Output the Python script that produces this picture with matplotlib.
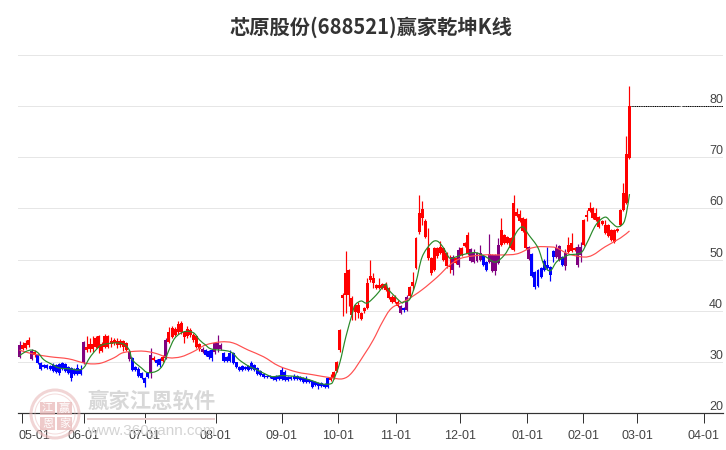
#!/usr/bin/env python3
"""Winner Qiankun K-line chart for 688521, candles plus two moving averages."""

import matplotlib
matplotlib.use('Agg')
import matplotlib.pyplot as plt
from matplotlib.patches import Circle, PathPatch, Rectangle
from matplotlib.path import Path

plt.rcParams['font.family'] = ['Liberation Sans', 'Noto Sans CJK SC', 'DejaVu Sans']

# ── Candles: r = rising, b = falling, p = turning ──
kinds = ('p' + 'r' * 3 + 'p' + 'r' + 'b' * 15 + 'p' + 'r' * 14 + 'p' + 'b' * 6 + 'p' + 'r'
         + 'b' * 2 + 'r' + 'p' + 'r' * 11 + 'p' + 'b' * 3 + 'p' * 3 + 'b' * 35 + 'r' * 23
         + 'pbp' + 'r' * 14 + 'p' + 'r' + 'p' + 'r' * 3 + 'p' * 4 + 'b' * 2 + 'p' * 4
         + 'r' * 9 + 'p' + 'b' * 8 + 'p' * 2 + 'b' + 'p' + 'r' * 3 + 'p' * 2 + 'r' * 16)

body_low = [31.0, 32.6, 32.8, 33.2, 30.6, 31.4, 29.8, 28.6, 29.0, 28.8,
            28.6, 28.2, 28.0, 27.8, 28.6, 28.2, 27.8, 26.8, 27.6, 27.6,
            27.6, 29.8, 32.4, 32.5, 32.5, 33.0, 32.8, 32.2, 33.0, 33.0,
            33.4, 33.6, 33.3, 33.3, 33.0, 32.4, 30.6, 28.4, 28.4, 27.3,
            26.9, 25.9, 27.0, 27.8, 30.4, 29.8, 29.4, 30.2, 30.8, 33.9,
            34.9, 35.2, 35.8, 35.8, 34.8, 35.0, 35.2, 34.2, 33.0, 32.5,
            32.0, 31.4, 31.0, 30.8, 32.0, 32.6, 32.6, 30.2, 30.2, 30.2,
            29.8, 29.0, 28.5, 28.5, 28.6, 28.4, 28.6, 28.4, 27.6, 27.5,
            27.1, 27.0, 27.0, 26.6, 26.5, 26.7, 26.6, 26.4, 26.5, 26.6,
            26.6, 26.7, 26.5, 26.0, 26.0, 26.0, 25.0, 25.4, 25.2, 25.2,
            25.1, 25.1, 26.5, 26.8, 28.3, 32.3, 42.4, 43.1, 43.1, 39.2,
            39.8, 39.6, 38.4, 39.9, 40.5, 46.0, 45.4, 44.5, 44.5, 44.5,
            44.1, 42.5, 41.7, 41.7, 40.9, 39.6, 40.2, 40.2, 42.8, 44.8,
            48.4, 55.4, 58.1, 54.4, 50.3, 47.4, 48.0, 50.7, 51.3, 49.9,
            48.8, 48.6, 48.0, 49.4, 49.0, 50.9, 52.7, 51.1, 49.8, 49.5,
            49.7, 50.0, 48.9, 48.0, 49.5, 47.8, 47.8, 49.3, 52.9, 53.2,
            53.2, 52.3, 51.9, 58.5, 57.5, 55.6, 52.3, 50.2, 46.8, 44.6,
            44.8, 46.6, 48.0, 48.4, 47.0, 50.5, 50.5, 50.0, 49.0, 48.8,
            51.5, 51.7, 51.9, 48.9, 50.9, 52.9, 58.3, 59.5, 58.1, 57.7,
            56.4, 57.0, 55.2, 54.6, 53.8, 53.4, 55.6, 56.8, 59.7, 61.0,
            69.8]
body_high = [33.3, 33.3, 33.7, 34.3, 32.2, 32.0, 31.4, 29.8, 29.4, 29.4,
             29.2, 29.4, 29.4, 29.6, 29.8, 29.6, 29.0, 28.8, 28.6, 28.8,
             28.7, 33.8, 33.0, 33.5, 33.5, 34.6, 35.0, 33.4, 35.0, 35.0,
             34.0, 34.2, 34.0, 34.0, 34.0, 33.6, 32.0, 30.8, 29.0, 28.6,
             27.8, 26.9, 27.8, 31.4, 30.8, 30.4, 30.6, 31.0, 34.3, 35.8,
             36.6, 36.4, 37.4, 37.6, 35.8, 36.4, 36.2, 35.2, 35.0, 33.4,
             32.6, 32.3, 32.1, 32.3, 33.7, 33.6, 33.2, 31.7, 31.0, 31.7,
             31.8, 29.9, 29.0, 29.2, 29.0, 29.2, 29.8, 29.4, 28.8, 28.2,
             27.6, 27.3, 27.3, 27.0, 27.2, 27.2, 28.4, 28.0, 27.0, 27.0,
             27.2, 27.3, 27.0, 26.8, 26.6, 26.5, 26.2, 26.0, 25.8, 25.8,
             25.6, 26.9, 27.0, 28.0, 30.0, 36.2, 43.0, 47.4, 48.0, 42.5,
             41.1, 41.1, 39.6, 40.5, 45.4, 46.8, 46.4, 45.0, 45.0, 45.2,
             45.2, 44.4, 42.7, 42.7, 41.7, 41.0, 40.6, 42.7, 44.6, 45.6,
             54.2, 59.1, 59.9, 57.5, 52.3, 50.3, 52.3, 52.3, 52.5, 52.3,
             51.3, 48.8, 50.5, 50.3, 51.9, 52.3, 53.2, 54.8, 52.0, 51.3,
             51.3, 51.3, 50.7, 49.5, 51.0, 50.9, 50.9, 52.9, 55.8, 54.8,
             54.4, 54.2, 61.1, 59.3, 59.0, 58.1, 58.0, 52.5, 51.1, 47.6,
             48.0, 48.4, 49.8, 48.9, 48.6, 51.7, 52.3, 52.6, 50.5, 51.3,
             52.9, 53.2, 52.3, 52.5, 52.5, 57.7, 58.7, 60.1, 60.1, 59.1,
             58.4, 57.6, 56.8, 56.8, 55.8, 55.8, 56.0, 59.7, 63.0, 70.6,
             80.0]
highs = [34.0, 33.8, 34.2, 34.8, 32.5, 32.3, 31.6, 30.0, 29.6, 29.6,
         29.4, 29.8, 29.6, 29.8, 30.0, 29.8, 29.2, 29.0, 28.8, 29.6,
         29.4, 34.0, 35.0, 34.6, 35.0, 35.0, 35.3, 33.8, 35.4, 35.2,
         34.8, 34.6, 34.6, 34.4, 34.2, 33.8, 32.3, 31.0, 29.2, 29.0,
         28.0, 27.0, 28.0, 32.8, 31.2, 30.6, 30.8, 31.3, 34.6, 36.8,
         37.0, 36.8, 38.0, 38.0, 36.0, 37.0, 36.6, 35.6, 35.2, 33.6,
         33.0, 32.6, 32.4, 32.6, 33.8, 35.2, 33.6, 32.0, 31.2, 32.4,
         32.0, 30.0, 29.2, 29.4, 29.2, 29.4, 30.2, 29.6, 29.0, 28.4,
         27.8, 27.5, 27.5, 27.2, 27.4, 27.4, 29.0, 28.4, 27.2, 27.2,
         27.6, 27.5, 27.2, 27.0, 27.2, 26.7, 26.4, 26.2, 26.0, 26.0,
         25.8, 27.0, 27.6, 28.2, 30.2, 36.4, 43.4, 51.7, 48.2, 42.8,
         41.4, 41.8, 39.8, 40.8, 46.4, 49.9, 47.4, 45.2, 46.4, 45.4,
         45.6, 44.6, 43.0, 43.0, 42.0, 41.2, 40.8, 43.0, 44.8, 47.6,
         54.4, 62.6, 61.4, 57.9, 56.2, 50.5, 52.5, 52.5, 53.6, 52.5,
         51.5, 50.9, 50.9, 50.5, 52.5, 52.5, 53.4, 55.4, 52.2, 52.0,
         51.5, 52.9, 50.9, 49.7, 55.0, 51.1, 51.1, 54.2, 58.1, 55.0,
         54.6, 54.4, 62.6, 60.0, 59.6, 58.3, 58.2, 52.7, 51.3, 47.8,
         48.2, 48.6, 50.2, 52.5, 48.8, 51.9, 53.0, 52.8, 50.7, 52.0,
         54.4, 55.2, 52.5, 53.0, 53.5, 57.9, 59.7, 61.3, 60.3, 60.0,
         58.6, 57.8, 57.7, 57.0, 56.0, 56.0, 56.2, 59.9, 65.0, 74.1,
         83.9]
lows = [30.8, 32.3, 32.5, 33.0, 30.4, 31.0, 29.6, 28.4, 28.8, 28.6,
        28.4, 28.0, 27.8, 27.4, 28.4, 28.0, 27.6, 26.2, 27.4, 27.4,
        27.4, 29.6, 32.0, 32.0, 32.0, 32.8, 31.8, 32.0, 32.8, 32.8,
        33.0, 33.2, 32.8, 33.0, 32.2, 32.2, 30.2, 28.2, 28.2, 27.0,
        26.6, 25.0, 26.8, 26.8, 30.2, 29.2, 29.0, 30.0, 30.5, 33.6,
        34.6, 35.0, 35.4, 35.5, 33.6, 34.6, 34.8, 33.8, 32.8, 32.2,
        31.8, 31.2, 30.6, 30.2, 31.6, 32.0, 32.4, 30.0, 30.0, 30.0,
        29.6, 28.8, 28.3, 28.3, 28.4, 28.2, 28.4, 28.2, 27.4, 27.2,
        26.9, 26.8, 26.8, 26.4, 26.3, 26.5, 26.4, 26.2, 26.3, 26.4,
        26.4, 26.5, 26.3, 25.8, 25.8, 25.8, 24.8, 25.2, 24.6, 25.0,
        24.8, 24.9, 26.3, 26.6, 28.0, 32.0, 39.0, 39.5, 41.0, 38.2,
        38.2, 38.6, 38.2, 39.6, 40.3, 45.6, 44.4, 44.3, 44.3, 44.2,
        43.9, 42.3, 41.5, 41.5, 40.7, 39.4, 39.8, 40.0, 42.6, 44.0,
        48.2, 55.0, 56.8, 54.2, 50.0, 47.0, 47.8, 50.3, 51.0, 49.7,
        48.4, 47.3, 47.0, 49.2, 48.5, 50.7, 52.5, 50.9, 49.6, 49.3,
        49.5, 49.8, 48.7, 47.8, 49.3, 47.6, 47.0, 49.1, 52.7, 53.0,
        53.0, 52.1, 51.7, 58.3, 57.3, 55.4, 52.1, 50.0, 46.6, 44.2,
        44.6, 46.4, 47.8, 48.2, 45.9, 49.5, 50.3, 49.8, 48.8, 48.0,
        51.3, 51.5, 51.7, 48.5, 49.5, 52.7, 57.5, 59.3, 57.9, 57.5,
        56.2, 56.8, 55.0, 54.4, 53.6, 53.2, 55.4, 56.6, 59.5, 60.8,
        69.6]
last_price = 80.0

# ── Moving averages, read at the candle they sit on ──
fast_days = [0, 2, 4, 6, 8, 11, 13, 17, 19, 21, 23, 25, 27, 31, 34, 36, 37, 40, 42, 45,
             47, 49, 51, 54, 57, 59, 61, 63, 69, 72, 75, 78, 81, 83, 86, 91, 95, 99, 102, 103,
             105, 107, 109, 110, 112, 114, 117, 120, 121, 125, 126, 128, 130, 132, 135, 137, 139, 141, 143, 145,
             148, 150, 153, 156, 159, 161, 163, 165, 167, 170, 172, 174, 176, 178, 180, 184, 186, 189, 192, 194,
             196, 198, 199, 200]
fast_ma = [31.2, 32.0, 32.3, 31.8, 30.4, 29.4, 28.8, 28.6, 28.4, 28.8, 30.8, 32.3, 33.3, 33.7, 33.5, 32.3, 30.4, 28.8, 27.9, 28.2,
           29.4, 32.3, 34.7, 35.9, 35.7, 34.3, 33.3, 32.5, 32.0, 30.4, 29.2, 28.4, 27.5, 27.1, 27.3, 27.1, 26.5, 25.7, 25.7, 26.5,
           29.8, 34.9, 39.2, 41.1, 41.9, 41.5, 43.1, 45.2, 44.1, 41.7, 41.7, 42.3, 45.6, 50.5, 53.2, 53.6, 52.3, 50.3, 50.5, 50.9,
           51.3, 51.3, 50.5, 49.5, 50.9, 52.9, 55.4, 56.4, 54.8, 52.3, 48.9, 47.8, 49.5, 50.3, 50.9, 51.3, 53.2, 56.8, 58.3, 57.3,
           56.4, 57.1, 59.1, 62.8]
slow_days = [0, 4, 10, 16, 21, 24, 27, 31, 34, 39, 42, 45, 49, 53, 57, 61, 66, 70, 75, 80,
             85, 91, 96, 102, 106, 109, 113, 116, 119, 122, 127, 132, 137, 141, 145, 152, 158, 163, 167, 170,
             173, 176, 180, 185, 188, 192, 197, 200]
slow_ma = [32.3, 31.6, 31.0, 30.6, 29.8, 29.6, 29.8, 30.8, 31.8, 32.1, 32.0, 31.6, 30.8, 31.0, 32.0, 33.3, 33.9, 33.7, 32.3, 31.0,
           29.2, 28.0, 27.5, 26.9, 26.7, 27.9, 31.4, 34.3, 37.8, 40.5, 42.1, 44.1, 46.6, 48.9, 50.3, 50.9, 50.9, 51.1, 52.1, 52.5,
           52.5, 52.3, 51.1, 50.5, 50.9, 52.5, 54.2, 55.6]

# ── Axis labels ──
month_labels = ['05-01', '06-01', '07-01', '08-01', '09-01', '10-01',
                '11-01', '12-01', '01-01', '02-01', '03-01', '04-01']
month_days = [0.8, 21.1, 41.1, 64.4, 86.0, 104.4, 123.4, 144.4, 166.4, 184.8, 202.5, 224.4]
price_ticks = [20, 30, 40, 50, 60, 70, 80, 90]

W, H = 726, 450
palette = {'r': '#ff0000', 'b': '#0000ff', 'p': '#800080'}
colors = [palette[k] for k in kinds]
days = list(range(len(kinds)))
px = 72 / 100  # one pixel in points


def smooth_line(ax, xs, ys, color):
    """Draw a rounded line through the read points (Catmull-Rom as Bezier)."""
    pts = list(zip(xs, ys))
    verts = [pts[0]]
    codes = [Path.MOVETO]
    for i in range(len(pts) - 1):
        p0 = pts[max(i - 1, 0)]
        p1, p2 = pts[i], pts[i + 1]
        p3 = pts[min(i + 2, len(pts) - 1)]
        c1 = (p1[0] + (p2[0] - p0[0]) / 6, p1[1] + (p2[1] - p0[1]) / 6)
        c2 = (p2[0] - (p3[0] - p1[0]) / 6, p2[1] - (p3[1] - p1[1]) / 6)
        verts += [c1, c2, p2]
        codes += [Path.CURVE4] * 3
    ax.add_patch(PathPatch(Path(verts, codes), fill=False, ec=color, lw=1.2 * px, zorder=4))


fig = plt.figure(figsize=(W / 100, H / 100), dpi=100)
ax = fig.add_axes([18 / W, 1 - 413 / H, 705 / W, 358 / H])

# Candles
heights = [t - b for t, b in zip(body_high, body_low)]
ax.vlines(days, lows, highs, colors=colors, lw=1.2 * px, zorder=3)
ax.bar(days, heights, bottom=body_low, width=0.98, color=colors, linewidth=0, zorder=3)

# Moving averages
smooth_line(ax, slow_days, slow_ma, '#ff5050')
smooth_line(ax, fast_days, fast_ma, '#2a8a2a')

# Dotted marker of the last price, runs to the right edge with one small break
ax.hlines([last_price, last_price], [days[-1] + 0.5, 217.2], [216.6, 230.66], colors='black',
          lw=1 * px, ls=(0, (1.2, 0.6)), zorder=2)

ax.set_xlim(-0.5, 230.66)
ax.set_ylim(20, 90)
for side in ['top', 'left', 'right']:
    ax.spines[side].set_visible(False)
ax.spines['bottom'].set_color('#333333')
ax.spines['bottom'].set_linewidth(1.2 * px)

ax.set_yticks(price_ticks)
ax.set_yticklabels([])
ax.tick_params(axis='y', length=0)
ax.grid(axis='y', color='#e6e6e6', lw=1 * px, zorder=0)
ax.set_axisbelow(True)
for value in price_ticks[:-1]:
    ax.annotate(str(value), xy=(1, value), xycoords=('axes fraction', 'data'),
                xytext=(0, 0), textcoords='offset points', ha='right', va='bottom',
                fontsize=9, color='#444444')

ax.set_xticks(month_days)
ax.set_xticklabels([])
ax.tick_params(axis='x', length=10 * px, width=1 * px, color='#333333')
for n, (day, label) in enumerate(zip(month_days, month_labels)):
    shift = 12 * px if n == 0 else 0
    ax.annotate(label, xy=(day, 0), xycoords=('data', 'axes fraction'),
                xytext=(shift, -17 * px), textcoords='offset points', ha='center', va='top',
                fontsize=9, color='#444444', annotation_clip=False)

fig.text(371 / W, 1 - 27 / H, '芯原股份(688521)赢家乾坤K线', ha='center', va='center',
         fontsize=14.6, fontweight='bold', color='#333333',
         family=['Noto Sans CJK SC', 'DejaVu Sans'])

# Watermark, drawn in pixel coordinates over the chart
over = fig.add_axes([0, 0, 1, 1], facecolor='none')
over.set_xlim(0, W)
over.set_ylim(H, 0)
over.axis('off')
seal = '#e9b9b9'
over.add_patch(Circle((55, 414), 24, fill=False, ec=seal, lw=3 * px, alpha=0.6))
over.add_patch(Circle((55, 414), 20, fill=False, ec=seal, lw=1 * px, alpha=0.5))
cells = [(40, 402, '江'), (57, 402, '赢'), (40, 417, '恩'), (57, 417, '家')]
for cx, cy, ch in cells:
    over.add_patch(Rectangle((cx, cy), 15, 13, fc=seal, ec='none', alpha=0.75))
    over.text(cx + 7.5, cy + 6.5, ch, ha='center', va='center', fontsize=8, color='white',
              family=['Noto Sans CJK SC', 'DejaVu Sans'])
over.text(152, 401, '赢家江恩软件', ha='center', va='center', fontsize=15.4, color='#d2d2d2',
          family=['Noto Sans CJK SC', 'DejaVu Sans'], fontweight='bold', alpha=0.85)
over.add_patch(Rectangle((87, 418), 128, 2, fc='#e8cccc', ec='none'))
over.text(151, 431, 'www.360gann.com', ha='center', va='center', fontsize=11,
          color='#cfcfcf', alpha=0.9)

fig.savefig('out.png', dpi=100)
